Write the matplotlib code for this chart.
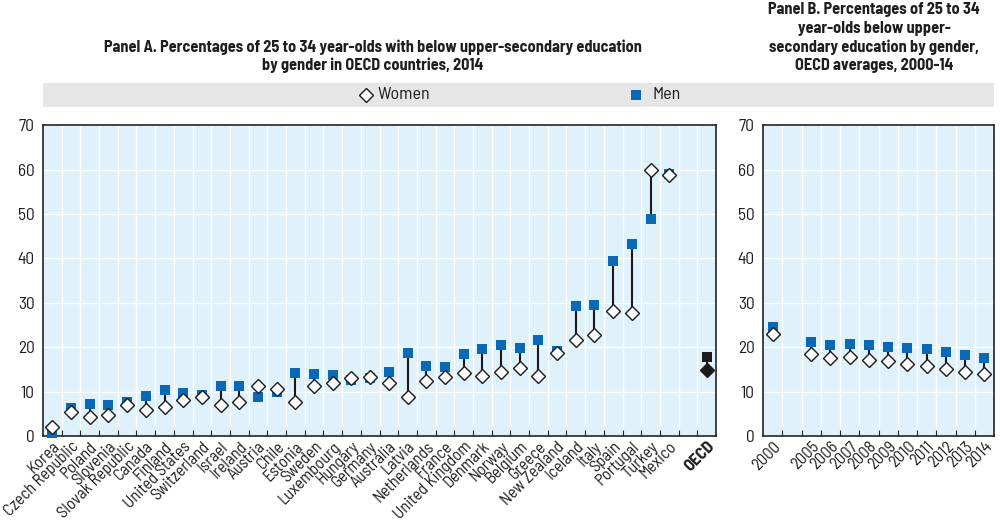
import matplotlib
matplotlib.use("Agg")
import matplotlib.pyplot as plt
from matplotlib.lines import Line2D
from matplotlib.patches import Rectangle
import numpy as np

plt.rcParams['font.family'] = ['Barlow Semi Condensed', 'DejaVu Sans']

countries = ["Korea", "Czech Republic", "Poland", "Slovenia", "Slovak Republic", "Canada",
             "Finland", "United States", "Switzerland", "Israel", "Ireland", "Austria",
             "Chile", "Estonia", "Sweden", "Luxembourg", "Hungary", "Germany", "Australia",
             "Latvia", "Netherlands", "France", "United Kingdom", "Denmark", "Norway",
             "Belgium", "Greece", "New Zealand", "Iceland", "Italy", "Spain", "Portugal",
             "Turkey", "Mexico"]
women = [2.0, 5.4, 4.3, 4.8, 7.1, 5.9, 6.5, 8.1, 8.9, 6.9, 7.7, 11.3, 10.5, 7.6, 11.3, 12.0,
         13.0, 13.2, 12.0, 8.9, 12.4, 13.3, 14.1, 13.5, 14.4, 15.4, 13.5, 18.7, 21.7, 22.7,
         28.1, 27.8, 60.0, 58.8]
men = [0.8, 6.4, 7.3, 7.1, 7.7, 9.0, 10.3, 9.8, 9.2, 11.3, 11.3, 8.7, 9.9, 14.2, 13.9, 13.7,
       12.6, 13.0, 14.4, 18.8, 15.7, 15.6, 18.4, 19.5, 20.5, 19.9, 21.7, 19.2, 29.3, 29.6,
       39.4, 43.3, 48.8, 59.0]
oecd_label = "OECD"
oecd_women = 14.8
oecd_men = 17.9

years = ["2000", "2005", "2006", "2007", "2008", "2009", "2010", "2011", "2012", "2013", "2014"]
years_women = [23.0, 18.4, 17.5, 17.8, 17.2, 16.8, 16.2, 15.7, 15.0, 14.4, 13.9]
years_men = [24.5, 21.2, 20.5, 20.7, 20.4, 20.1, 19.8, 19.5, 19.0, 18.2, 17.6]

BG = "#dff1fb"
BLUE = "#0a69b6"
DARK = "#1a1a1a"
TXT = "#1e1e1e"

fig = plt.figure(figsize=(10, 5.26), dpi=100)
axA = fig.add_axes([0.043, 0.171, 0.673, 0.591])
axB = fig.add_axes([0.763, 0.171, 0.231, 0.591])


def style(ax, nslots):
    ax.set_facecolor(BG)
    ax.set_xlim(-0.5, nslots - 0.5)
    ax.set_ylim(0, 70)
    ax.set_yticks(np.arange(0, 71, 10))
    ax.tick_params(axis='y', length=0, labelsize=12.5, pad=6, colors=TXT)
    ax.set_xticks(np.arange(0.5, nslots - 0.5, 1), minor=True)
    ax.tick_params(axis='x', which='minor', direction='in', length=4, width=0.8, color='#222222')
    ax.tick_params(axis='x', which='major', length=0, labelsize=12, pad=2, colors=TXT)
    ax.grid(True, axis='y', color='white', lw=1.0, zorder=0)
    ax.grid(True, axis='x', which='minor', color='white', lw=1.0, zorder=0)
    ax.set_axisbelow(True)
    for s in ax.spines.values():
        s.set_color('#222222')
        s.set_linewidth(1.2)


def draw(ax, xs, w, m, mc, wc_face, wc_edge):
    ax.vlines(xs, w, m, color=DARK, lw=1.5, zorder=2)
    ax.plot(xs, m, 's', color=mc, ms=7.5, mew=0, zorder=3, clip_on=False)
    ax.plot(xs, w, 'D', mfc=wc_face, mec=wc_edge, ms=6.8, mew=1.0, zorder=4, clip_on=False)


# Panel A
nA = len(countries) + 2
style(axA, nA)
xA = np.arange(len(countries))
draw(axA, xA, women, men, BLUE, 'white', DARK)
x_oecd = nA - 1
draw(axA, [x_oecd], [oecd_women], [oecd_men], DARK, DARK, DARK)
axA.set_xticks(list(xA) + [x_oecd])
labsA = axA.set_xticklabels(countries + [oecd_label], rotation=45, ha='right',
                            rotation_mode='anchor')
labsA[-1].set_fontweight('bold')

# Panel B
nB = len(years) + 1
style(axB, nB)
xB = np.array([0] + list(range(2, nB)))
draw(axB, xB, years_women, years_men, BLUE, 'white', DARK)
axB.set_xticks(xB)
axB.set_xticklabels(years, rotation=45, ha='right', rotation_mode='anchor')

# Titles
fig.text(0.373, 0.911, "Panel A. Percentages of 25 to 34 year-olds with below upper-secondary education",
         ha='center', va='center', fontsize=11.7, fontweight='bold', color=TXT)
fig.text(0.373, 0.876, "by gender in OECD countries, 2014",
         ha='center', va='center', fontsize=11.7, fontweight='bold', color=TXT)
for i, t in enumerate(["Panel B. Percentages of 25 to 34", "year-olds below upper-",
                       "secondary education by gender,", "OECD averages, 2000-14"]):
    fig.text(0.874, 0.981 - i * 0.0352, t, ha='center', va='center', fontsize=11.7,
             fontweight='bold', color=TXT)

# Legend band
fig.add_artist(Rectangle((0.043, 0.796), 0.951, 0.047, transform=fig.transFigure,
                         facecolor='#e6e6e6', edgecolor='none', zorder=0))
fig.add_artist(Line2D([0.366], [0.8195], marker='D', mfc='white', mec=DARK, ms=6.8, mew=1.0,
                      transform=fig.transFigure, ls='none'))
fig.text(0.378, 0.8195, "Women", ha='left', va='center', fontsize=13, color=TXT)
fig.add_artist(Line2D([0.6355], [0.8195], marker='s', color=BLUE, ms=7.5, mew=0,
                      transform=fig.transFigure, ls='none'))
fig.text(0.652, 0.8195, "Men", ha='left', va='center', fontsize=13, color=TXT)

fig.savefig("out.png", dpi=100, facecolor='white')
